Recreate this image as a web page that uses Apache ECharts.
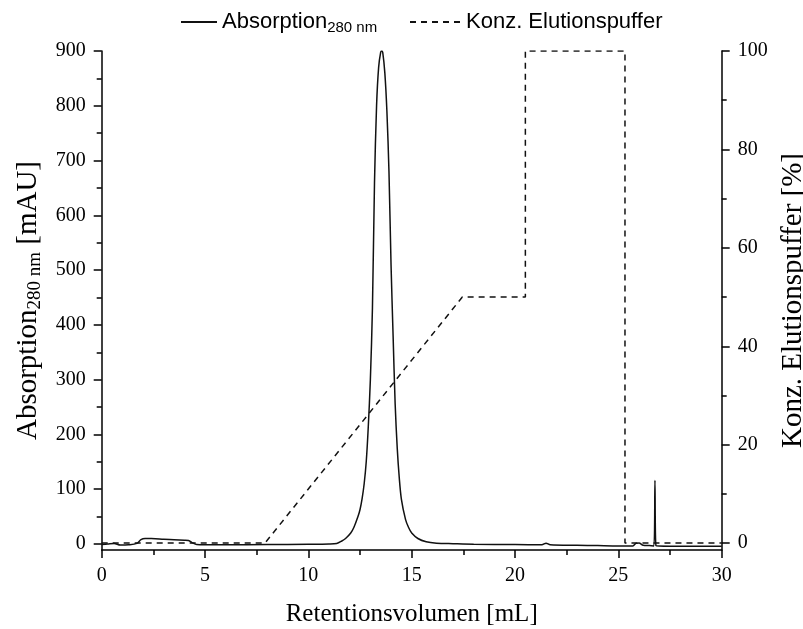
<!DOCTYPE html>
<html>
<head>
<meta charset="utf-8">
<script src="https://cdn.jsdelivr.net/npm/echarts@6/dist/echarts.min.js"></script>
<style>
  html, body { margin: 0; padding: 0; background: #fff; }
  #chart { width: 803px; height: 629px; }
</style>
</head>
<body>
<div id="chart"></div>
<script>
// UV trace at 280 nm (retention volume in mL, absorbance in mAU)
const absVolume = [
  0, 0.3, 0.6, 0.9, 1.3, 1.7, 1.9, 2.1, 2.4, 3.0, 3.5, 4.0, 4.2, 4.4, 4.6, 5.0, 6.0, 8.0, 10.0, 11.0,
  11.37, 11.6, 11.8, 12.05, 12.2, 12.4, 12.5, 12.6, 12.7, 12.8, 12.9, 13.0, 13.1, 13.2, 13.3, 13.4, 13.5, 13.55,
  13.6, 13.7, 13.8, 13.9, 14.0, 14.1, 14.2, 14.3, 14.4, 14.5, 14.7, 14.85, 15.0, 15.3, 15.7, 16.2, 17.0,
  18.0, 20.0, 21.3, 21.5, 21.7, 23.0, 24.0, 25.0, 25.7, 25.85, 26.0, 26.2, 26.5, 26.72, 26.77, 26.82,
  27.5, 28.0, 30.0
];
const absValue = [
  -1, 0, 1, -2, -1.5, 1, 8, 10, 10, 8.5, 7.5, 7, 6.5, 2, -1, -1.5, -1.5, -1, -0.5, 0,
  1, 5, 10, 20, 30, 50, 63, 83, 110, 150, 215, 300, 430, 660, 800, 870, 898, 900,
  897, 860, 790, 680, 510, 380, 255, 175, 120, 82, 45, 30, 20, 10, 4, 1.5, 0.5,
  -0.5, -1, -1.5, 1.5, -1.5, -2.5, -3, -3.5, -3.5, 1, 2, -2.5, -3, -3.5, 116, -3,
  -4, -4, -4
];

// Elution buffer gradient (retention volume in mL, share in %)
const concVolume = [0, 7.9, 17.45, 20.5, 20.5, 25.32, 25.32, 30];
const concValue  = [0, 0, 50, 50, 100, 100, 0, 0];

// Axis tick values
const absMajorTicks  = [0, 100, 200, 300, 400, 500, 600, 700, 800, 900];
const absMinorTicks  = [50, 150, 250, 350, 450, 550, 650, 750, 850];
const concMajorTicks = [0, 20, 40, 60, 80, 100];
const concMinorTicks = [10, 30, 50, 70, 90];

const absRange  = [-11, 900];
const concRange = [-1.4, 100];

const serif = "'Liberation Serif', 'Times New Roman', serif";
const sans  = "'Liberation Sans', Arial, sans-serif";
const ink = '#111';

const absData  = absVolume.map((v, i) => [v, absValue[i]]);
const concData = concVolume.map((v, i) => [v, concValue[i]]);

function yAxisBase(range, pos) {
  return {
    type: 'value',
    position: pos,
    min: range[0],
    max: range[1],
    splitLine: { show: false },
    axisLine: { show: true, onZero: false, lineStyle: { color: '#000', width: 1.5 } }
  };
}

const chart = echarts.init(document.getElementById('chart'), null, { renderer: 'canvas' });

chart.setOption({
  animation: false,
  backgroundColor: '#fff',
  grid: { left: 101.7, right: 81.3, top: 51, bottom: 79, containLabel: false, outerBoundsMode: 'none' },
  legend: [
    {
      data: ['Absorption'],
      left: 175, top: 6,
      itemWidth: 36, itemHeight: 14,
      itemStyle: { opacity: 0 },
      formatter: () => '{m|Absorption}{s|280 nm}',
      textStyle: {
        color: '#000', fontFamily: sans, fontSize: 22,
        rich: {
          m: { fontFamily: sans, fontSize: 22, color: '#000' },
          s: { fontFamily: sans, fontSize: 15, color: '#000', padding: [11, 0, 0, 0] }
        }
      }
    },
    {
      data: ['Konz. Elutionspuffer'],
      left: 404, top: 6,
      itemWidth: 51, itemHeight: 14,
      itemStyle: { opacity: 0 },
      textStyle: { color: '#000', fontFamily: sans, fontSize: 22 }
    }
  ],
  xAxis: {
    type: 'value',
    min: 0, max: 30, interval: 5,
    name: 'Retentionsvolumen [mL]',
    nameLocation: 'middle',
    nameGap: 52,
    nameTextStyle: { fontFamily: serif, fontSize: 25, color: '#000' },
    axisLine: { show: true, onZero: false, lineStyle: { color: '#000', width: 1.5 } },
    axisTick: { show: true, inside: false, length: 8, lineStyle: { color: '#000', width: 1.5 } },
    minorTick: { show: true, splitNumber: 2, length: 5, lineStyle: { color: '#000', width: 1.5 } },
    splitLine: { show: false },
    minorSplitLine: { show: false },
    axisLabel: { fontFamily: serif, fontSize: 20, color: '#000', margin: 16 }
  },
  yAxis: [
    Object.assign(yAxisBase(absRange, 'left'), {
      name: '{m|Absorption}{s|280 nm}{m| [mAU]}',
      nameLocation: 'middle',
      nameGap: 55,
      nameRotate: 90,
      nameTextStyle: {
        fontFamily: serif, fontSize: 29, color: '#000',
        rich: {
          m: { fontFamily: serif, fontSize: 29, color: '#000' },
          s: { fontFamily: serif, fontSize: 19, color: '#000', padding: [14, 0, 0, 0] }
        }
      },
      axisTick: { show: true, inside: false, length: 8, customValues: absMajorTicks, lineStyle: { color: '#000', width: 1.5 } },
      axisLabel: { show: true, customValues: absMajorTicks, fontFamily: serif, fontSize: 20, color: '#000', margin: 16 }
    }),
    Object.assign(yAxisBase(concRange, 'right'), {
      name: 'Konz. Elutionspuffer [%]',
      nameLocation: 'middle',
      nameGap: 55,
      nameRotate: 90,
      nameTextStyle: { fontFamily: serif, fontSize: 29, color: '#000' },
      axisTick: { show: true, inside: false, length: 8, customValues: concMajorTicks, lineStyle: { color: '#000', width: 1.5 } },
      axisLabel: { show: true, customValues: concMajorTicks, fontFamily: serif, fontSize: 20, color: '#000', margin: 16 }
    }),
    // minor ticks of the absorbance axis
    Object.assign(yAxisBase(absRange, 'left'), {
      axisLine: { show: false },
      axisTick: { show: true, inside: false, length: 5, customValues: absMinorTicks, lineStyle: { color: '#000', width: 1.5 } },
      axisLabel: { show: false }
    }),
    // minor ticks of the gradient axis
    Object.assign(yAxisBase(concRange, 'right'), {
      axisLine: { show: false },
      axisTick: { show: true, inside: false, length: 5, customValues: concMinorTicks, lineStyle: { color: '#000', width: 1.5 } },
      axisLabel: { show: false }
    })
  ],
  series: [
    {
      name: 'Absorption',
      type: 'line',
      yAxisIndex: 0,
      data: absData,
      symbol: 'none',
      smooth: 0.3,
      itemStyle: { color: ink },
      lineStyle: { color: ink, width: 1.5 },
      z: 3
    },
    {
      name: 'Konz. Elutionspuffer',
      type: 'line',
      yAxisIndex: 1,
      data: concData,
      symbol: 'none',
      itemStyle: { color: ink },
      lineStyle: { color: ink, width: 1.5, type: [6, 5] },
      z: 2
    }
  ]
});
</script>
</body>
</html>
